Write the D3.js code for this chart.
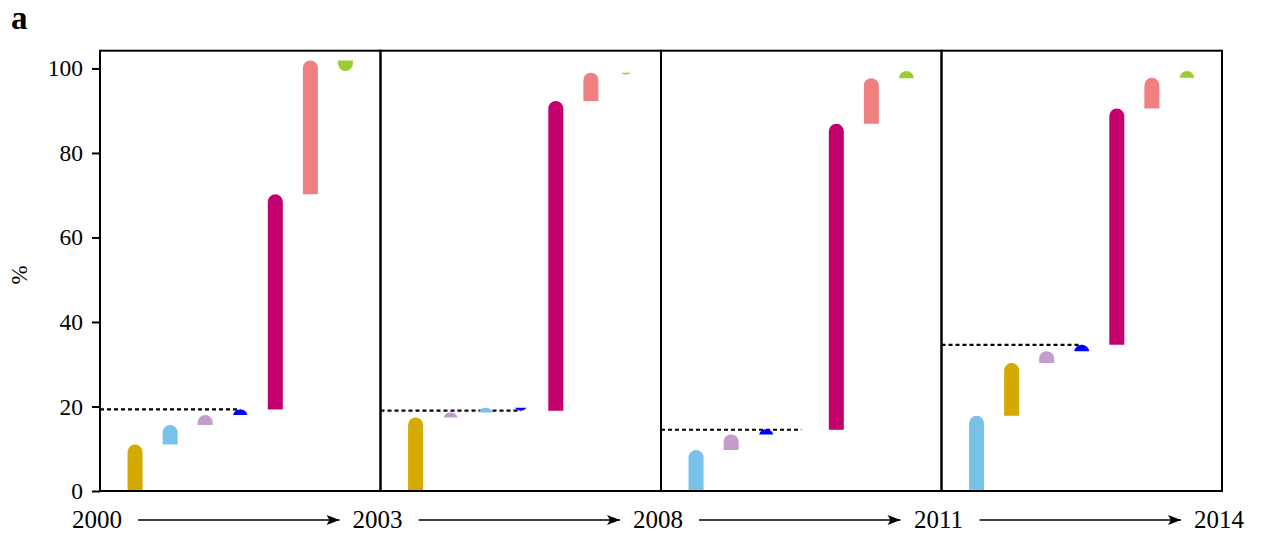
<!DOCTYPE html>
<html>
<head>
<meta charset="utf-8">
<script src="https://cdn.jsdelivr.net/npm/d3@7"></script>
<style>
  html, body { margin: 0; padding: 0; background: #fff; }
  svg { display: block; }
  text { font-family: "Liberation Serif", "Times New Roman", serif; fill: #000; }
</style>
</head>
<body>
<svg id="chart" width="1266" height="533"></svg>
<script>
// Period boundaries shown under the panels
const years = ["2000", "2003", "2008", "2011", "2014"];

// Contributing factors and their colours
const factorKeys = ["gold", "sky", "lilac", "blue", "magenta", "salmon", "green"];
const factorColors = ["#d4aa00", "#78c2e8", "#c29dcb", "#0000ff", "#c3006e", "#f08080", "#9acd32"];

// Step order and signed change (percentage points) for each period
const order1 = ["gold", "sky", "lilac", "blue", "magenta", "salmon", "green"];
const change1 = [11.0, 4.6, 2.4, 1.3, 50.9, 31.7, -2.5];

const order2 = ["gold", "lilac", "sky", "blue", "magenta", "salmon", "green"];
const change2 = [17.4, 1.2, 1.1, -0.7, 73.3, 6.7, -0.4];

const order3 = ["sky", "lilac", "blue", "gold", "magenta", "salmon", "green"];
const change3 = [9.7, 3.7, 1.2, -0.1, 72.4, 10.8, 1.7];

const order4 = ["sky", "gold", "lilac", "blue", "magenta", "salmon", "green"];
const change4 = [17.8, 12.5, 2.8, 1.5, 55.9, 7.3, 1.6];

// Y axis ticks
const yTicks = [0, 20, 40, 60, 80, 100];

const orders = [order1, order2, order3, order4];
const changes = [change1, change2, change3, change4];

const svg = d3.select("#chart");
const colour = d3.scaleOrdinal().domain(factorKeys).range(factorColors);

const plotLeft = 100, plotRight = 1222, plotTop = 50.7, plotBottom = 491;
const y = d3.scaleLinear().domain([0, 104.2]).range([plotBottom, plotTop]);
const panelX = d3.scaleLinear().domain([0, years.length - 1]).range([plotLeft, plotRight]);

const barW = 15, r = barW / 2;

// Bar from value a to value b with a rounded cap at the b end
function barPath(cx, a, b) {
  const y0 = y(a), y1 = y(b);
  const h = Math.abs(y1 - y0);
  const up = y1 < y0;
  const x0 = cx - r, x1 = cx + r;
  if (h < 0.01) return "";
  if (h >= r) {
    const yc = up ? y1 + r : y1 - r;
    return `M${x0},${y0}V${yc}A${r},${r} 0 0 ${up ? 1 : 0} ${x1},${yc}V${y0}Z`;
  }
  const c = Math.sqrt(r * r - (r - h) * (r - h));
  return `M${cx - c},${y0}A${r},${r} 0 0 ${up ? 1 : 0} ${cx + c},${y0}Z`;
}

orders.forEach((ord, p) => {
  const pl = panelX(p), pr = panelX(p + 1);
  const slot = d3.scaleLinear().domain([0, ord.length + 1]).range([pl, pr]);
  const g = svg.append("g");

  // cumulative steps
  let acc = 0;
  const steps = ord.map((k, i) => {
    const s = { key: k, start: acc, end: acc + changes[p][i], i };
    acc = s.end;
    return s;
  });

  // level reached after the first four factors
  const level = steps[3].end;
  g.append("line")
    .attr("x1", pl).attr("x2", slot(4))
    .attr("y1", y(level)).attr("y2", y(level))
    .attr("stroke", "#000").attr("stroke-width", 2.2)
    .attr("stroke-dasharray", "4,3");

  g.selectAll("path.bar").data(steps).join("path")
    .attr("class", "bar")
    .attr("d", d => barPath(slot(d.i + 1), d.start, d.end))
    .attr("fill", d => colour(d.key));

  // panel frame
  g.append("rect")
    .attr("x", pl).attr("y", plotTop)
    .attr("width", pr - pl).attr("height", plotBottom - plotTop)
    .attr("fill", "none").attr("stroke", "#000").attr("stroke-width", 2);
});

// Y axis
const yAxis = svg.append("g")
  .attr("transform", `translate(${plotLeft},0)`)
  .call(d3.axisLeft(y).tickValues(yTicks).tickSize(8).tickPadding(9).tickFormat(d3.format("d")));
yAxis.select(".domain").remove();
yAxis.selectAll(".tick line").attr("stroke", "#000").attr("stroke-width", 2);
yAxis.selectAll(".tick text")
  .style("font-family", '"Liberation Serif", serif')
  .style("font-size", "23.5px");

svg.append("text")
  .attr("transform", "translate(27,275) rotate(-90)")
  .attr("text-anchor", "middle")
  .style("font-size", "23px")
  .text("%");

svg.append("text")
  .attr("x", 11).attr("y", 29)
  .style("font-size", "33px").style("font-weight", "bold")
  .text("a");

// Period labels with arrows between them
const defs = svg.append("defs");
defs.append("marker")
  .attr("id", "arrowhead")
  .attr("viewBox", "-14 -6 15 12")
  .attr("refX", 0).attr("refY", 0)
  .attr("markerWidth", 15).attr("markerHeight", 12)
  .attr("markerUnits", "userSpaceOnUse")
  .attr("orient", "auto")
  .append("path")
  .attr("d", "M0,0L-13,-5L-10,0L-13,5Z")
  .attr("fill", "#000");

svg.selectAll("text.year").data(years).join("text")
  .attr("class", "year")
  .attr("x", (d, i) => panelX(i) - 3)
  .attr("y", 527.5)
  .attr("text-anchor", "middle")
  .style("font-size", "25px")
  .text(d => d);

svg.selectAll("line.arrow").data(d3.range(years.length - 1)).join("line")
  .attr("class", "arrow")
  .attr("x1", i => panelX(i) + 38)
  .attr("x2", i => panelX(i + 1) - 41)
  .attr("y1", 520).attr("y2", 520)
  .attr("stroke", "#000").attr("stroke-width", 1.6)
  .attr("marker-end", "url(#arrowhead)");
</script>
</body>
</html>
